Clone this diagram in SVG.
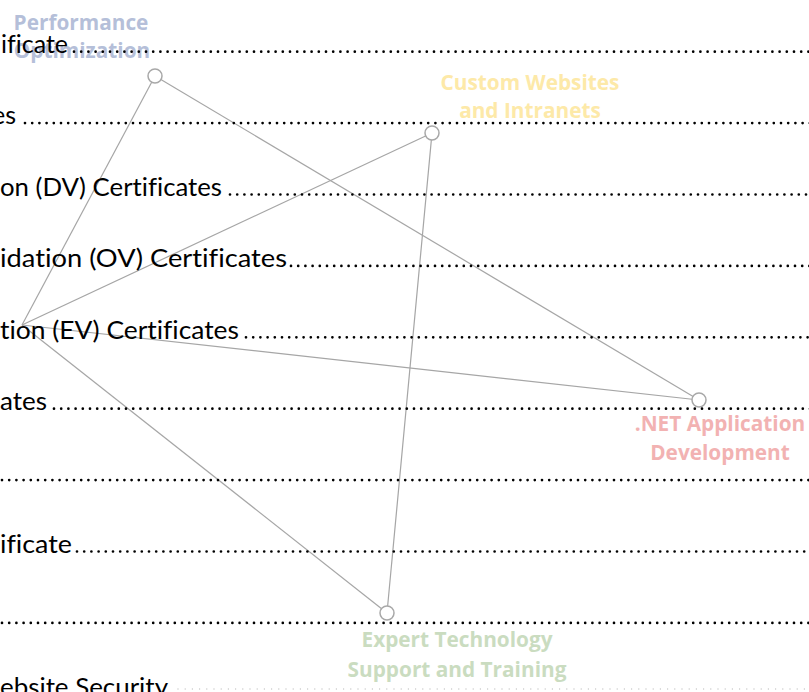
<svg xmlns="http://www.w3.org/2000/svg" width="809" height="692" viewBox="0 0 809 692">
<style>
.doc{font-family:Lato,"Liberation Sans",sans-serif;font-size:25px;fill:#000;font-variant-ligatures:none}
.dots{stroke:#000;stroke-width:2.7;stroke-linecap:round;stroke-dasharray:0 7.2;fill:none}
.fdots{stroke:#c8c8c8;stroke-width:1.4;stroke-linecap:round;stroke-dasharray:0 7.2;fill:none}
.edge{stroke:#a6a6a6;stroke-width:1.2;fill:none}
.node circle{fill:#fff;stroke:#a8a8a8;stroke-width:1.5}
.lbl{font-family:"Open Sans","Noto Sans",sans-serif;font-weight:700;font-size:20.8px;text-anchor:middle}
</style>
<rect width="809" height="692" fill="#fff"/>
<g id="connectors">
<line class="edge" x1="22" y1="325" x2="155" y2="76"/>
<line class="edge" x1="22" y1="325" x2="432" y2="133"/>
<line class="edge" x1="22" y1="325" x2="699" y2="400"/>
<line class="edge" x1="22" y1="325" x2="387" y2="613"/>
<line class="edge" x1="155" y1="76" x2="699" y2="400"/>
<line class="edge" x1="432" y1="133" x2="387" y2="613"/>
</g>
<g id="node-performance" class="node">
<circle cx="155" cy="76" r="7"/>
<text class="lbl" fill="#b5bfd9" x="81" y="30">Performance</text>
<text class="lbl" fill="#b5bfd9" x="82" y="58">Optimization</text>
</g>
<g id="node-custom" class="node">
<circle cx="432" cy="133" r="7"/>
<text class="lbl" fill="#fde9a8" x="530" y="90">Custom Websites</text>
<text class="lbl" fill="#fde9a8" x="530" y="118">and Intranets</text>
</g>
<g id="node-net" class="node">
<circle cx="699" cy="400" r="7"/>
<text class="lbl" fill="#f2b2b2" x="720" y="431">.NET Application</text>
<text class="lbl" fill="#f2b2b2" x="720" y="460">Development</text>
</g>
<g id="node-expert" class="node">
<circle cx="387" cy="613" r="7"/>
<text class="lbl" fill="#cadcc0" x="457" y="647">Expert Technology</text>
<text class="lbl" fill="#cadcc0" x="457" y="677">Support and Training</text>
</g>
<g id="document">
<text class="doc" x="1" y="53" textLength="67" lengthAdjust="spacingAndGlyphs">ificate</text>
<line class="dots" x1="74" y1="51.7" x2="812" y2="51.7"/>
<text class="doc" x="16" y="124.4" text-anchor="end">es</text>
<line class="dots" x1="25" y1="123.1" x2="812" y2="123.1"/>
<text class="doc" x="0" y="195.8" textLength="222" lengthAdjust="spacingAndGlyphs">on (DV) Certificates</text>
<line class="dots" x1="230" y1="194.5" x2="812" y2="194.5"/>
<text class="doc" x="0" y="267.2" textLength="287" lengthAdjust="spacingAndGlyphs">idation (OV) Certificates</text>
<line class="dots" x1="291" y1="265.9" x2="812" y2="265.9"/>
<text class="doc" x="0" y="338.6" textLength="239" lengthAdjust="spacingAndGlyphs">tion (EV) Certificates</text>
<line class="dots" x1="246" y1="337.3" x2="812" y2="337.3"/>
<text class="doc" x="0" y="410" textLength="47" lengthAdjust="spacingAndGlyphs">ates</text>
<line class="dots" x1="54" y1="408.7" x2="812" y2="408.7"/>
<line class="dots" x1="2" y1="480.1" x2="812" y2="480.1"/>
<text class="doc" x="0" y="552.8" textLength="72" lengthAdjust="spacingAndGlyphs">ificate</text>
<line class="dots" x1="77" y1="551.5" x2="812" y2="551.5"/>
<line class="dots" x1="2" y1="622.9" x2="812" y2="622.9"/>
<text class="doc" x="0" y="696" textLength="168" lengthAdjust="spacingAndGlyphs">ebsite Security</text>
<line class="fdots" x1="178" y1="689" x2="812" y2="689"/>
</g>
</svg>
